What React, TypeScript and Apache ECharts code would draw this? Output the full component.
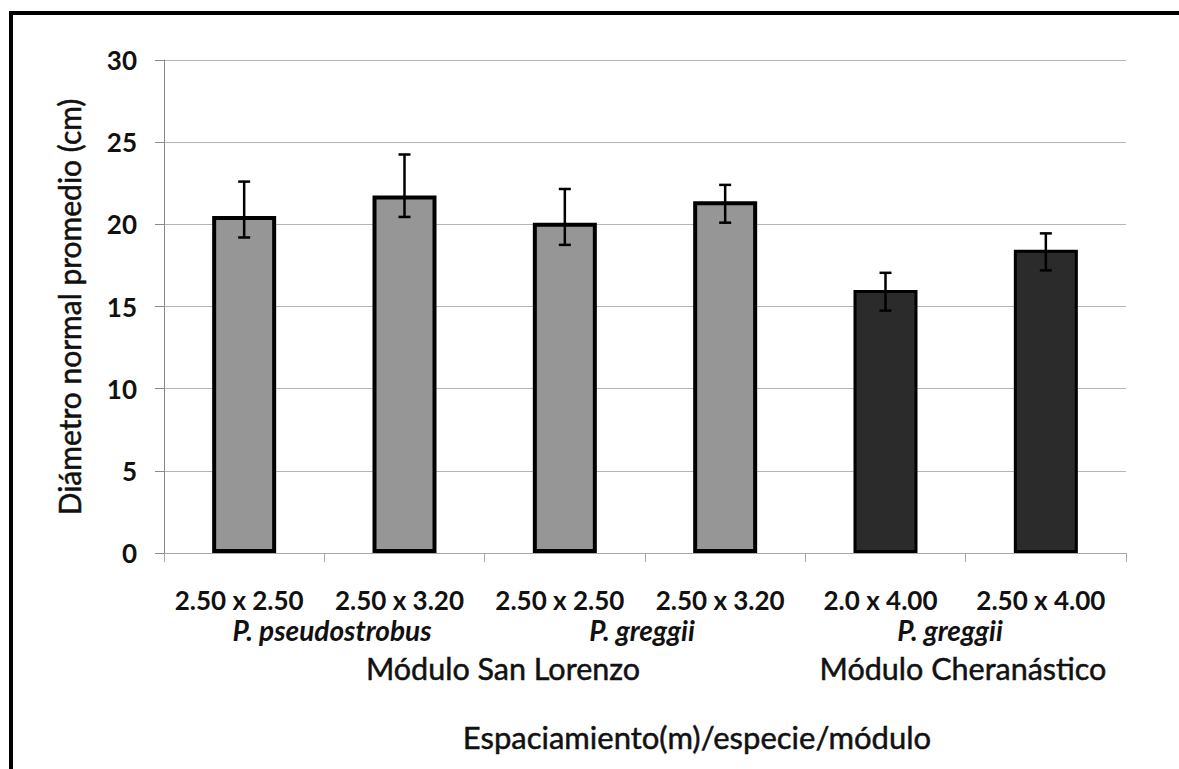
import React, { useEffect, useRef } from "react";
import * as echarts from "echarts";

const categories = ["2.50 x 2.50", "2.50 x 3.20", "2.50 x 2.50", "2.50 x 3.20", "2.0 x 4.00", "2.50 x 4.00"];
const modules = ["San Lorenzo", "San Lorenzo", "San Lorenzo", "San Lorenzo", "Cheranástico", "Cheranástico"];
const means = [20.5, 21.75, 20.1, 21.4, 16.0, 18.45];
const errLow = [19.2, 20.45, 18.75, 20.1, 14.75, 17.2];
const errHigh = [22.6, 24.25, 22.15, 22.4, 17.05, 19.45];
const yTicks = [0, 5, 10, 15, 20, 25, 30];
const speciesLabels = ["P. pseudostrobus", "P. greggii", "P. greggii"];
const moduleLabels = ["Módulo San Lorenzo", "Módulo Cheranástico"];
const yTitle = "Diámetro normal promedio (cm)";
const xTitle = "Espaciamiento(m)/especie/módulo";

const FONT = "Lato";
const INK = "#111";

export default function App() {
  const ref = useRef<HTMLDivElement>(null);
  useEffect(() => {
    if (!ref.current) return;
    const chart = echarts.init(ref.current, null, { renderer: "svg" });
    const barData = means.map((v, i) => ({
      value: v,
      itemStyle:
        modules[i] === "San Lorenzo"
          ? { color: "#969696", borderColor: "#000", borderWidth: 4 }
          : { color: "#2b2b2b", borderColor: "#000", borderWidth: 3 },
    }));
    const errData = categories.map((_, i) => [i, errLow[i], errHigh[i]]);
    const speciesX = [332, 642, 950];
    const moduleX = [503, 963];
    const thick = { stroke: INK, lineWidth: 0.5 };
    chart.setOption({
      animation: false,
      backgroundColor: "#fff",
      grid: { left: 164, top: 60, width: 962, height: 493, containLabel: false },
      xAxis: {
        type: "category",
        data: categories,
        axisLine: { show: true, lineStyle: { color: "#a8a8a8", width: 1 } },
        axisTick: { show: true, length: 9, lineStyle: { color: "#a8a8a8", width: 1 } },
        axisLabel: {
          interval: 0,
          hideOverlap: false,
          fontFamily: FONT,
          fontWeight: "bold",
          fontSize: 26,
          color: INK,
          margin: 34,
          lineHeight: 26,
          padding: [0, 10, 0, 0],
        },
      },
      yAxis: {
        type: "value",
        min: yTicks[0],
        max: yTicks[yTicks.length - 1],
        interval: 5,
        axisLine: { show: true, lineStyle: { color: "#8a8a8a", width: 1 } },
        axisTick: { show: true, length: 9, lineStyle: { color: "#8a8a8a", width: 1 } },
        splitLine: { show: true, lineStyle: { color: "#b4b4b4", width: 1 } },
        axisLabel: {
          fontFamily: FONT,
          fontWeight: "bold",
          fontSize: 26,
          color: INK,
          margin: 27,
        },
      },
      series: [
        {
          type: "bar",
          data: barData,
          barWidth: 64,
          z: 2,
        },
        {
          type: "custom",
          data: errData,
          z: 10,
          encode: { x: 0, y: [1, 2] },
          renderItem: (params: any, api: any) => {
            const lo = api.coord([api.value(0), api.value(1)]);
            const hi = api.coord([api.value(0), api.value(2)]);
            const hw = 6;
            const style = { stroke: "#000", lineWidth: 2.5, fill: "none" };
            return {
              type: "group",
              children: [
                { type: "line", shape: { x1: lo[0], y1: lo[1], x2: hi[0], y2: hi[1] }, style },
                { type: "line", shape: { x1: hi[0] - hw, y1: hi[1], x2: hi[0] + hw, y2: hi[1] }, style },
                { type: "line", shape: { x1: lo[0] - hw, y1: lo[1], x2: lo[0] + hw, y2: lo[1] }, style },
              ],
            };
          },
        },
      ],
      graphic: [
        { type: "rect", left: 9, top: 11, shape: { width: 1179, height: 4 }, style: { fill: "#000" } },
        { type: "rect", left: 9, top: 11, shape: { width: 4, height: 769 }, style: { fill: "#000" } },
        {
          type: "text",
          x: 69,
          y: 307,
          rotation: Math.PI / 2,
          style: {
            text: yTitle,
            fontFamily: FONT,
            fontSize: 30,
            fill: INK,
            ...thick,
            align: "center",
            verticalAlign: "middle",
          },
        },
        ...speciesLabels.map((t, i) => ({
          type: "text",
          x: speciesX[i],
          y: 630,
          style: {
            text: t,
            fontFamily: FONT,
            fontSize: 28,
            fontWeight: "bold",
            fontStyle: "italic",
            fill: INK,
            align: "center",
            verticalAlign: "middle",
          },
        })),
        ...moduleLabels.map((t, i) => ({
          type: "text",
          x: moduleX[i],
          y: 668,
          style: {
            text: t,
            fontFamily: FONT,
            fontSize: 30.5,
            fill: INK,
            ...thick,
            align: "center",
            verticalAlign: "middle",
          },
        })),
        {
          type: "text",
          x: 697,
          y: 737,
          style: {
            text: xTitle,
            fontFamily: FONT,
            fontSize: 31,
            fill: INK,
            ...thick,
            align: "center",
            verticalAlign: "middle",
          },
        },
      ],
    });
    return () => chart.dispose();
  }, []);
  return (
    <div
      ref={ref}
      style={{ position: "absolute", left: 0, top: 0, width: 1179, height: 769, background: "#fff" }}
    />
  );
}
